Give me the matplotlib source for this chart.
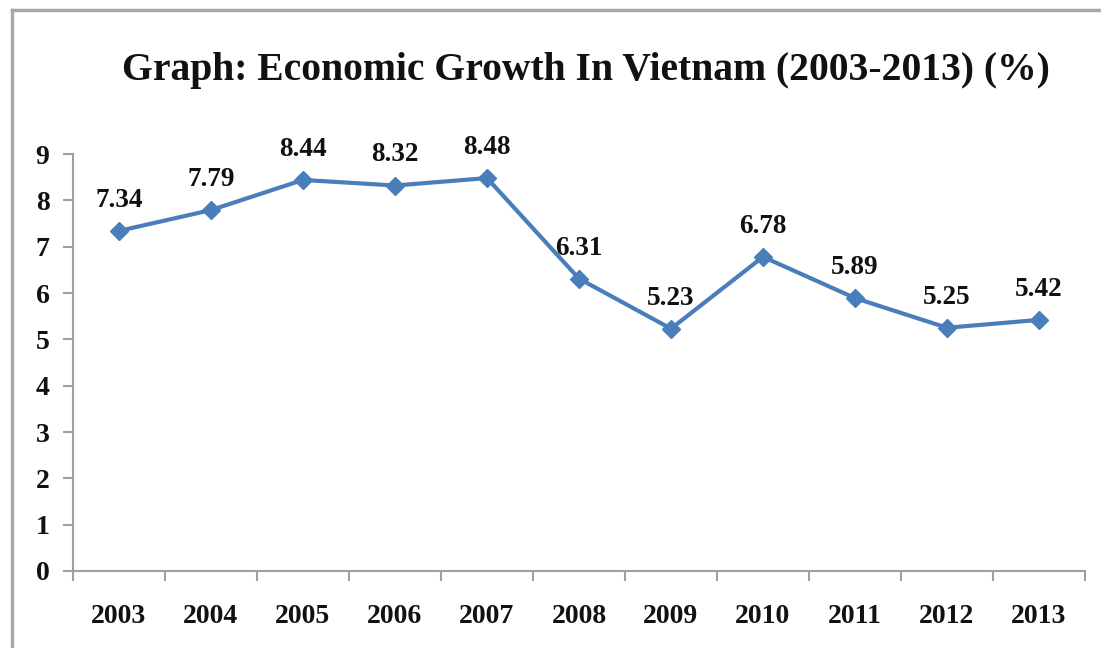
import matplotlib
matplotlib.use("Agg")
import matplotlib.pyplot as plt
from matplotlib.lines import Line2D

years = ["2003", "2004", "2005", "2006", "2007", "2008", "2009", "2010", "2011", "2012", "2013"]
growth = [7.34, 7.79, 8.44, 8.32, 8.48, 6.31, 5.23, 6.78, 5.89, 5.25, 5.42]
y_ticks = [0, 1, 2, 3, 4, 5, 6, 7, 8, 9]

plt.rcParams["font.family"] = ["Liberation Serif", "DejaVu Serif"]
plt.rcParams["font.weight"] = "bold"

W, H = 1101, 648
fig = plt.figure(figsize=(W / 100, H / 100), dpi=100)
fig.patch.set_facecolor("white")

ax = fig.add_axes([73 / W, 1 - 571 / H, (1085 - 73) / W, (571 - 154) / H])

x = list(range(len(years)))
ax.plot(x, growth, color="#4A7EBB", linewidth=3, marker="D", markersize=9,
        markerfacecolor="#4A7EBB", markeredgecolor="#4A7EBB", zorder=3)

for xi, v in zip(x, growth):
    ax.annotate(f"{v:.2f}", (xi, v), xytext=(0, 13), textcoords="offset points",
                ha="center", va="bottom", fontsize=19.5, fontweight="bold", color="#111111")

ax.set_xlim(-0.5, len(years) - 0.5)
ax.set_ylim(0, 9)
ax.set_yticks(y_ticks)
ax.set_yticklabels([str(t) for t in y_ticks])
ax.set_xticks(x)
ax.set_xticklabels(years)
ax.set_xticks([i - 0.5 for i in range(len(years) + 1)], minor=True)

for s in ("top", "right"):
    ax.spines[s].set_visible(False)
for s in ("left", "bottom"):
    ax.spines[s].set_color("#A0A0A0")
    ax.spines[s].set_linewidth(1.5)

ax.tick_params(axis="x", which="major", length=0, pad=24, labelsize=20, labelcolor="#111111")
ax.tick_params(axis="x", which="minor", length=7, width=1.5, color="#A0A0A0", direction="out")
ax.tick_params(axis="y", length=7, width=1.5, color="#A0A0A0", direction="out",
               pad=10, labelsize=20, labelcolor="#111111")
for lbl in ax.get_xticklabels() + ax.get_yticklabels():
    lbl.set_fontweight("bold")

fig.text(586 / W, 1 - 80 / H, "Graph: Economic Growth In Vietnam (2003-2013) (%)",
         ha="center", va="baseline", fontsize=28.5, fontweight="bold", color="#111111")

# outer frame (left and top edges)
fig.add_artist(Line2D([12 / W, 12 / W], [0, 1 - 10 / H], transform=fig.transFigure,
                      color="#A8A8A8", linewidth=2.5))
fig.add_artist(Line2D([12 / W, 1], [1 - 10 / H, 1 - 10 / H], transform=fig.transFigure,
                      color="#A8A8A8", linewidth=2.5))

fig.savefig("out.png", dpi=100, facecolor="white")
